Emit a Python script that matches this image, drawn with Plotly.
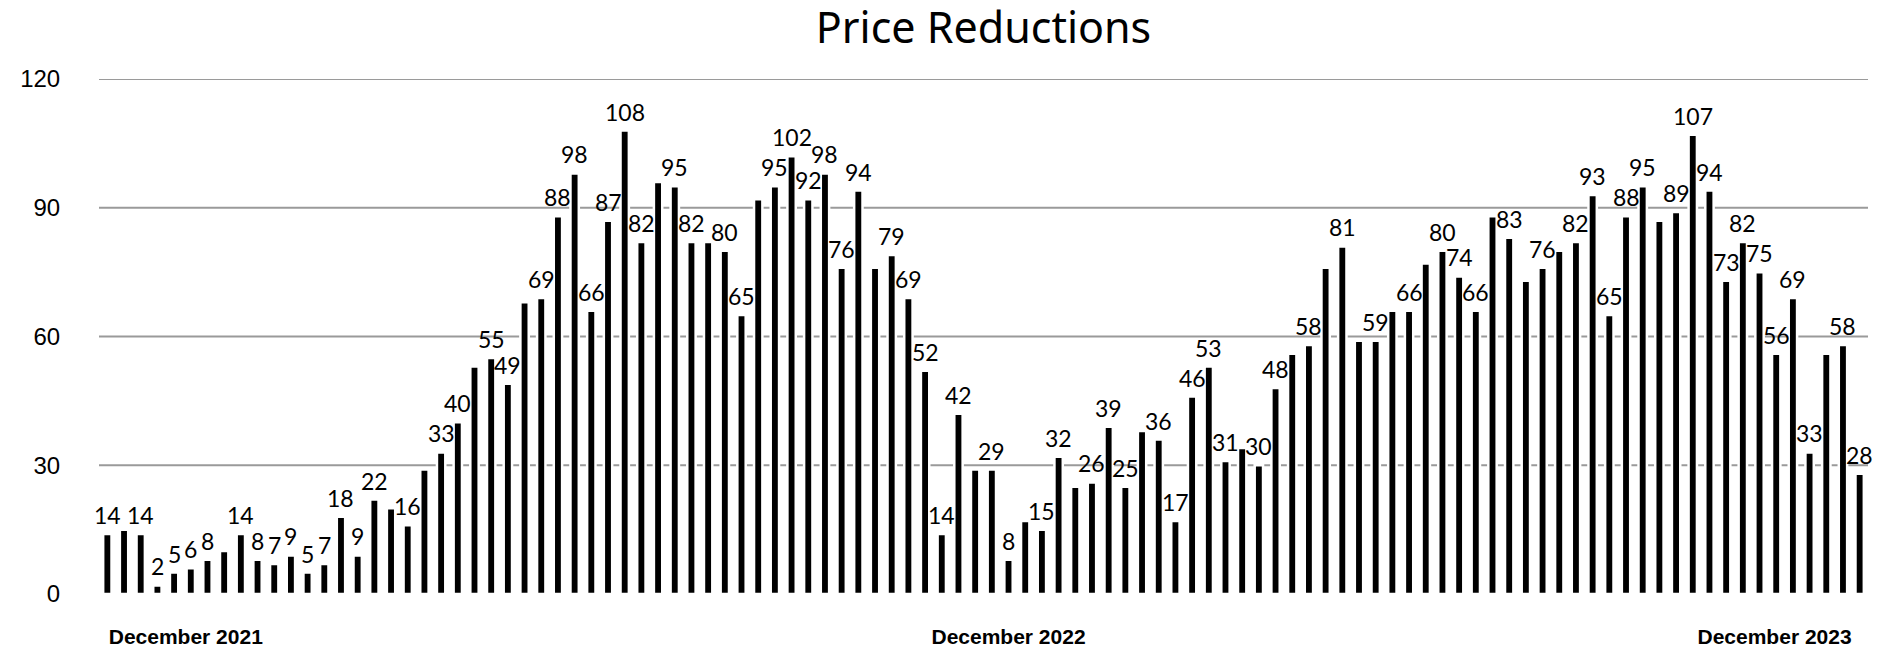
import plotly.graph_objects as go

title = "Price Reductions"

# weekly values, December 2021 -> December 2023
values = [14, 15, 14, 2, 5, 6, 8, 10, 14, 8, 7, 9, 5, 7, 18, 9, 22, 20, 16, 29,
          33, 40, 53, 55, 49, 68, 69, 88, 98, 66, 87, 108, 82, 96, 95, 82, 82, 80, 65, 92,
          95, 102, 92, 98, 76, 94, 76, 79, 69, 52, 14, 42, 29, 29, 8, 17, 15, 32, 25, 26,
          39, 25, 38, 36, 17, 46, 53, 31, 34, 30, 48, 56, 58, 76, 81, 59, 59, 66, 66, 77,
          80, 74, 66, 88, 83, 73, 76, 80, 82, 93, 65, 88, 95, 87, 89, 107, 94, 73, 82, 75,
          56, 69, 33, 56, 58, 28]

weeks = list(range(len(values)))

# bars that carry a visible value label in the original
labeled_weeks = [0, 2, 3, 4, 5, 6, 8, 9, 10, 11, 12, 13, 14, 15, 16, 18, 20, 21, 23, 24,
                 26, 27, 28, 29, 30, 31, 32, 34, 35, 37, 38, 40, 41, 42, 43, 44, 45, 47, 48, 49,
                 50, 51, 53, 54, 56, 57, 59, 60, 61, 63, 64, 65, 66, 67, 69, 70, 72, 74, 76, 78,
                 80, 81, 82, 84, 86, 88, 89, 90, 91, 92, 94, 95, 96, 97, 98, 99, 100, 101, 102, 104,
                 105]

tick_labels = ["December 2021", "December 2022", "December 2023"]
tick_weeks = [4.7, 54.0, 99.9]

y_ticks = [0, 30, 60, 90, 120]

fig = go.Figure()
fig.add_trace(go.Bar(
    x=weeks,
    y=values,
    marker=dict(color="#000000", line=dict(color="#ffffff", width=2.5)),
    hoverinfo="x+y",
))

label_font = dict(family="Lato", size=23, color="#000000")
annotations = []
for w in labeled_weeks:
    annotations.append(dict(
        x=w, y=values[w], xref="x", yref="y",
        text=str(values[w]), showarrow=False,
        yanchor="bottom", xanchor="center", yshift=3,
        font=label_font,
    ))

shapes = []
for v in y_ticks[1:]:
    shapes.append(dict(
        type="line", xref="paper", yref="y", x0=0, x1=1, y0=v, y1=v,
        line=dict(color="#9a9a9a", width=2), layer="below",
    ))

# the page body keeps its default 8px margin, so the figure is drawn 16px smaller
# and its margins are shifted by 8px to land where the reference has them
fig.update_layout(
    width=1872, height=652,
    margin=dict(l=76, r=12, t=71, b=55),
    paper_bgcolor="#ffffff", plot_bgcolor="#ffffff",
    bargap=0.5,
    showlegend=False,
    title=dict(text=title, x=0.5, xref="paper", y=1 - 20 / 652, yref="container",
               yanchor="middle", xanchor="center",
               font=dict(family="Noto Sans", size=43, color="#000000")),
    annotations=annotations,
    shapes=shapes,
    xaxis=dict(
        range=[-0.5, len(values) - 0.5],
        tickmode="array", tickvals=tick_weeks, ticktext=tick_labels,
        ticks="outside", ticklen=24, tickcolor="rgba(0,0,0,0)",
        tickfont=dict(family="Liberation Sans", size=21, color="#000000", weight="bold"),
        showgrid=False, zeroline=False, showline=False,
    ),
    yaxis=dict(
        range=[0, 120],
        tickmode="array", tickvals=y_ticks,
        ticks="outside", ticklen=33, tickcolor="rgba(0,0,0,0)",
        tickfont=dict(family="Liberation Sans", size=24, color="#000000"),
        showgrid=False, zeroline=False, showline=False,
    ),
)

fig.write_html("out.html")
